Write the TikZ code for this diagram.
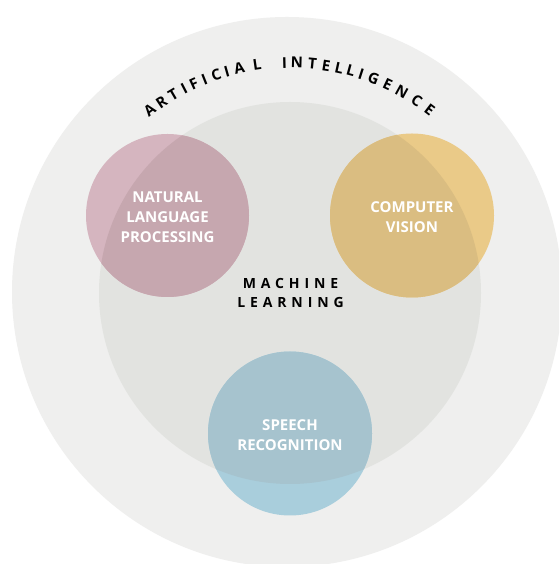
\documentclass[tikz,border=0pt]{standalone}
\usepackage{fontspec}
\setmainfont{Open Sans}

\definecolor{aigray}{HTML}{EFEFEE}
\definecolor{mlgray}{HTML}{E2E3E0}
\definecolor{nlplight}{HTML}{D5B5BF}
\definecolor{nlpdark}{HTML}{C6A7AF}
\definecolor{cvlight}{HTML}{EACA88}
\definecolor{cvdark}{HTML}{DABD81}
\definecolor{srlight}{HTML}{A9CEDC}
\definecolor{srdark}{HTML}{A6C3CE}

\newcommand{\setupcenters}{
    \coordinate (ai)  at (287,272);
    \coordinate (ml)  at (290,271);
    \coordinate (nlp) at (167.5,348.5);
    \coordinate (cv)  at (412,348.5);
    \coordinate (sr)  at (290,130.5);
}
\tikzset{
  bubbletext/.style={font=\bfseries\fontsize{15}{20}\selectfont, text=white, align=center, yshift=-1.5pt},
  mltext/.style={font=\bfseries\fontsize{14}{19.5}\selectfont\addfontfeature{LetterSpace=35}, align=center},
  arcletter/.style={font=\bfseries\fontsize{15}{15}\selectfont, inner sep=0pt, anchor=base}
}

\begin{document}
\begin{tikzpicture}[x=1pt,y=1pt]
          \clip (0,0) rectangle (559,564);
          \fill[white] (0,0) rectangle (559,564);
          \setupcenters;

          \fill[aigray] (ai) circle (275pt); % artificial intelligence
          \fill[mlgray] (ml) circle (191pt); % machine learning

          \fill[nlplight] (nlp) circle (81.5pt);
          \fill[cvlight] (cv) circle (82pt);
          \fill[srlight] (sr) circle (82pt);
          \begin{scope}
            \clip (ml) circle (191pt);
            \fill[nlpdark] (nlp) circle (81.5pt);
            \fill[cvdark] (cv) circle (82pt);
            \fill[srdark] (sr) circle (82pt);
          \end{scope}

          \node[bubbletext] (nlptext) at (nlp) {NATURAL\\LANGUAGE\\PROCESSING};
          \node[bubbletext] (cvtext) at (cv) {COMPUTER\\VISION};
          \node[bubbletext] (srtext) at (sr) {SPEECH\\RECOGNITION};
          \node[mltext] (mltitle) at (290.5,271) {MACHINE\\LEARNING};

          % letters round the top, one by one
          \foreach \ch/\ang [count=\i] in {A/127.5, R/123.9, T/120.5, I/117.4, F/114.7,
                I/111.8, C/108.7, I/105.9, A/102.7, L/98.25,
                I/91.4, N/88.3, T/84.4, E/81.0, L/77.7, L/74.7, I/72.0,
                G/68.7, E/64.9, N/61.0, C/56.6, E/52.7}
            \node[arcletter, rotate=\ang-90] (ailetter\i) at ([shift={(\ang:225pt)}]ml) {\ch};
        \end{tikzpicture}
\end{document}
